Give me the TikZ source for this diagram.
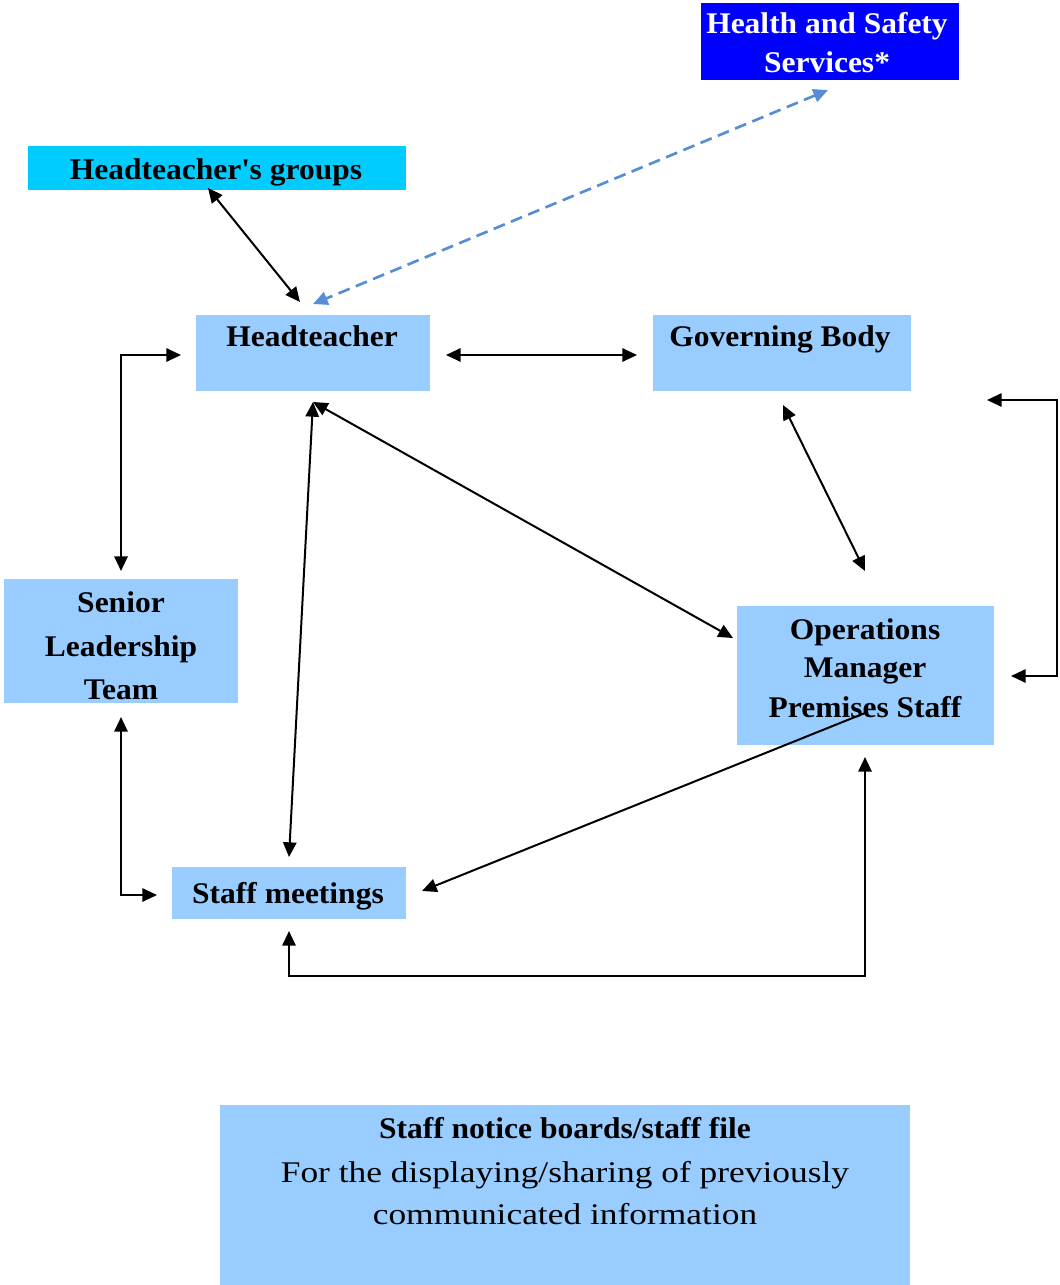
\documentclass[tikz,border=0pt]{standalone}
\usepackage{fontspec}
\setmainfont{Liberation Serif}[FakeStretch=1.05]
\newfontfamily\widefont{Liberation Serif}[FakeStretch=1.18]
\usetikzlibrary{arrows.meta,fit}
\definecolor{boxblue}{HTML}{99CCFF}
\definecolor{cyanbox}{HTML}{00CCFF}
\definecolor{hsblue}{HTML}{0000FF}
\definecolor{dashblue}{HTML}{558ED5}
\begin{document}
\begin{tikzpicture}[x=0.75pt,y=-0.75pt,
  box/.style={fill=boxblue, draw=none, inner sep=0pt, fit={#1}},
  lbl/.style={font=\fontsize{22.5}{24}\selectfont\bfseries, inner sep=0pt, anchor=base},
  plain/.style={font=\widefont\fontsize{22.5}{24}\selectfont, inner sep=0pt, anchor=base},
  tipA/.tip={Triangle[length=11pt,width=10pt]},
  link/.style={line width=1.5pt, tipA-tipA},
  onelink/.style={line width=1.5pt, -tipA},
  dashlink/.style={line width=2pt, dashblue, dash pattern=on 9pt off 5pt,
     {Triangle[length=11pt,width=10pt]}-{Triangle[length=11pt,width=10pt]}}]
\useasboundingbox (0,0) rectangle (1060,1285);

% boxes
\node[box={(701,3)(959,80)}, fill=hsblue] (hs) {};
\node[box={(28,146)(406,190)}, fill=cyanbox] (hg) {};
\node[box={(196,315)(430,391)}] (ht) {};
\node[box={(653,315)(911,391)}] (gb) {};
\node[box={(4,579)(238,703)}] (slt) {};
\node[box={(737,606)(994,745)}] (ops) {};
\node[box={(172,867)(406,919)}] (sm) {};
\node[box={(220,1105)(910,1285)}] (nb) {};

% texts
\node[lbl, white] (hs1) at (827,33) {Health and Safety};
\node[lbl, white] (hs2) at (827,72) {Services*};
\node[lbl] (hgt) at (216,179) {Headteacher\textquotesingle s groups};
\node[lbl] (htt) at (312,346) {Headteacher};
\node[lbl] (gbt) at (780,346) {Governing Body};
\node[lbl] (slt1) at (121,612) {Senior};
\node[lbl] (slt2) at (121,656) {Leadership};
\node[lbl] (slt3) at (121,699) {Team};
\node[lbl] (ops1) at (865,639) {Operations};
\node[lbl] (ops2) at (865,677) {Manager};
\node[lbl] (ops3) at (865,717) {Premises Staff};
\node[lbl] (smt) at (288,903) {Staff meetings};
\node[lbl] (nb1) at (565,1138) {Staff notice boards/staff file};
\node[plain] (nb2) at (565,1182) {For the displaying/sharing of previously};
\node[plain] (nb3) at (565,1224) {communicated information};

% connector ends
\coordinate (hgB) at (208,188);
\coordinate (htA) at (300,302);
\coordinate (hsB) at (828,90);
\coordinate (htB) at (313,304);
\coordinate (htR) at (446,355);
\coordinate (gbL) at (637,355);
\coordinate (htL) at (181,355);
\coordinate (sltT) at (121,571);
\coordinate (sltB) at (121,717);
\coordinate (smL) at (157,895);
\coordinate (htS) at (313,402);
\coordinate (smT) at (289,857);
\coordinate (opsL) at (733,638);
\coordinate (gbB) at (783,405);
\coordinate (opsT) at (865,571);
\coordinate (gbR) at (987,400);
\coordinate (opsR) at (1011,676);
\coordinate (opsIn) at (865,713);
\coordinate (smR) at (422,891);
\coordinate (smB) at (289,931);
\coordinate (opsB) at (865,757);

% connectors
\draw[link] (hgB) -- (htA);
\draw[dashlink] (hsB) -- (htB);
\draw[link] (htR) -- (gbL);
\draw[link] (sltT) |- (htL);
\draw[link] (sltB) |- (smL);
\draw[link] (htS) -- (smT);
\draw[link] (htS) -- (opsL);
\draw[link] (gbB) -- (opsT);
\draw[link] (gbR) -- (1057,400) -- (1057,676) -- (opsR);
\draw[onelink] (opsIn) -- (smR);
\draw[link] (smB) -- (289,976) -- (865,976) -- (opsB);
\end{tikzpicture}
\end{document}
